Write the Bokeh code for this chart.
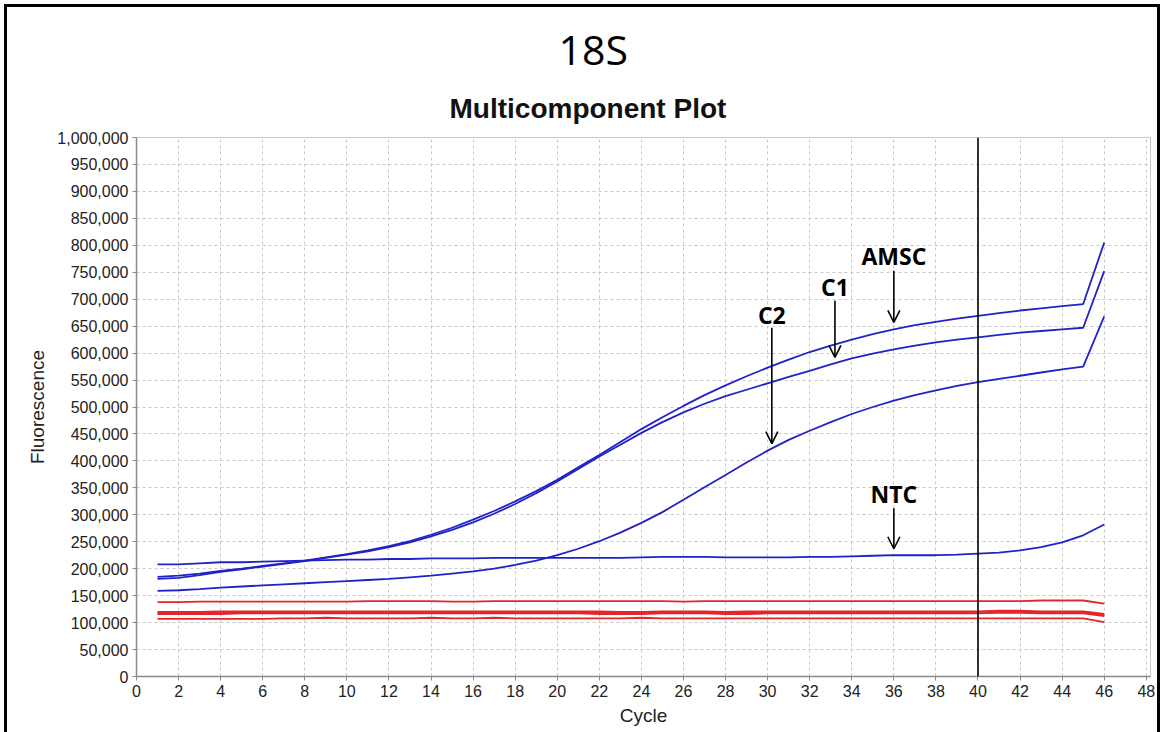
from bokeh.plotting import figure
from bokeh.models import (Range1d, Span, Arrow, OpenHead, Label, Title,
                          NumeralTickFormatter, FixedTicker)
from bokeh.embed import file_html
from bokeh.resources import INLINE

cycles = list(range(1, 47))

amsc = [185, 187, 191, 196, 200, 205, 210, 215, 221, 227, 234, 242, 251, 263, 276,
        291, 307, 325, 344, 365, 388, 411, 435, 459, 481, 502, 522, 540, 557, 573,
        588, 602, 614, 625, 635, 644, 652, 658, 664, 669, 674, 679, 683, 687, 691, 805]
c1 = [181, 183, 188, 194, 199, 204, 209, 214, 220, 226, 232, 240, 249, 260, 272,
      286, 302, 320, 340, 362, 385, 408, 430, 452, 472, 490, 506, 520, 532, 544,
      556, 567, 579, 590, 599, 607, 614, 620, 625, 629, 634, 638, 641, 644, 647, 752]
c2 = [159, 160, 162, 165, 167, 169, 171, 173, 175, 177, 179, 181, 184, 187, 191,
      195, 200, 207, 215, 225, 237, 251, 267, 285, 305, 328, 351, 374, 397, 419,
      439, 456, 472, 487, 500, 512, 522, 531, 539, 546, 552, 558, 564, 570, 575, 668]
ntc = [208, 208, 210, 212, 212, 213, 214, 215, 216, 217, 217, 218, 218, 219, 219,
       219, 220, 220, 220, 220, 220, 220, 220, 221, 222, 222, 222, 221, 221, 221,
       221, 222, 222, 223, 224, 225, 225, 225, 226, 228, 230, 234, 240, 249, 262, 282]
red1 = [138, 138, 139, 139, 139, 139, 139, 139, 139, 139, 140, 140, 140, 140, 139,
        139, 140, 140, 140, 140, 140, 140, 140, 140, 140, 139, 140, 140, 140, 140,
        140, 140, 140, 140, 140, 140, 140, 140, 140, 140, 140, 140, 141, 141, 141, 135]
red2 = [120, 120, 120, 121, 121, 121, 121, 121, 121, 121, 121, 121, 121, 121, 121,
        121, 121, 121, 121, 121, 121, 121, 120, 120, 121, 121, 121, 120, 121, 121,
        121, 121, 121, 121, 121, 121, 121, 121, 121, 121, 122, 122, 121, 121, 121, 116]
red3 = [118, 118, 118, 118, 118, 119, 119, 119, 119, 119, 119, 119, 119, 119, 119,
        119, 119, 119, 119, 119, 119, 119, 119, 119, 119, 119, 119, 119, 119, 119,
        119, 119, 119, 119, 119, 119, 119, 119, 119, 120, 120, 120, 119, 119, 119, 114]
red4 = [116, 116, 116, 116, 117, 117, 117, 117, 117, 117, 117, 117, 117, 117, 117,
        117, 117, 117, 117, 117, 117, 116, 116, 116, 117, 117, 117, 116, 116, 117,
        117, 117, 117, 117, 117, 117, 117, 117, 117, 117, 118, 118, 117, 117, 117, 112]
red5 = [107, 107, 107, 107, 107, 107, 108, 108, 109, 108, 108, 108, 108, 109, 108,
        108, 109, 108, 108, 108, 108, 108, 108, 109, 108, 108, 108, 108, 108, 108,
        108, 108, 108, 108, 108, 108, 108, 108, 108, 108, 108, 108, 108, 108, 108, 101]

blue_series = [amsc, c1, c2, ntc]
red_series = [red1, red2, red3, red4, red5]

threshold_cycle = 40

# label, cycle, text value, arrow start value, arrow tip value (thousands)
ann_labels = ["AMSC", "C1", "C2", "NTC"]
ann_cycles = [36.0, 33.2, 30.2, 36.0]
ann_text_vals = [781, 722, 671, 339]
ann_start_vals = [753, 697, 647, 312]
ann_tip_vals = [657, 592, 432, 237]

title_text = "18S"
subtitle_text = "Multicomponent Plot"

x_ticks = list(range(0, 49, 2))
y_ticks = list(range(0, 1000001, 50000))

BLUE = "#2121c8"
RED = "#e3262b"

p = figure(width=1150, height=725, output_backend="svg", toolbar_location=None,
           x_range=Range1d(0, 48.2), y_range=Range1d(0, 1_000_000),
           min_border_left=129, min_border_right=7, min_border_top=130,
           min_border_bottom=56, title=None)

t_sub = Title(text=subtitle_text, align="left", offset=313, standoff=28,
              text_font="Liberation Sans", text_font_size="28px",
              text_font_style="bold", text_color="#111111")
p.add_layout(t_sub, "above")
t_main = Title(text=title_text, align="left", offset=422, standoff=0,
               text_font="Open Sans", text_font_size="41px",
               text_font_style="normal", text_color="#000000")
p.add_layout(t_main, "above")

p.background_fill_color = "white"
p.border_fill_color = "white"
p.outline_line_color = "#c8c8c8"

p.xaxis.ticker = FixedTicker(ticks=x_ticks)
p.yaxis.ticker = FixedTicker(ticks=y_ticks)
p.yaxis.formatter = NumeralTickFormatter(format="0,0")
p.xgrid.ticker = FixedTicker(ticks=x_ticks)
p.ygrid.ticker = FixedTicker(ticks=y_ticks)
for g in (p.xgrid, p.ygrid):
    g.grid_line_color = "#c8c8c8"
    g.grid_line_dash = "3 3"
    g.grid_line_width = 1

for ax in (p.xaxis, p.yaxis):
    ax.axis_line_color = "#8a8a8a"
    ax.axis_line_width = 1.5
    ax.major_tick_line_color = "#8a8a8a"
    ax.major_tick_out = 4
    ax.major_tick_in = 0
    ax.minor_tick_line_color = None
    ax.major_label_text_font = "Liberation Sans"
    ax.major_label_text_font_size = "16px"
    ax.major_label_text_color = "#222222"
    ax.major_label_standoff = 4
    ax.axis_label_text_font = "Liberation Sans"
    ax.axis_label_text_font_size = "19px"
    ax.axis_label_text_font_style = "normal"
    ax.axis_label_text_color = "#222222"
p.xaxis.axis_label_standoff = 5
p.yaxis.axis_label_standoff = 6
p.xaxis.axis_label = "Cycle"
p.yaxis.axis_label = "Fluorescence"

for s in red_series:
    p.line(cycles, [v * 1000 for v in s], line_color=RED, line_width=1.8)
for s in blue_series:
    p.line(cycles, [v * 1000 for v in s], line_color=BLUE, line_width=1.8)

p.add_layout(Span(location=threshold_cycle, dimension="height",
                  line_color="black", line_width=1.6))

for lab, cx, tv, sv, ev in zip(ann_labels, ann_cycles, ann_text_vals,
                               ann_start_vals, ann_tip_vals):
    p.add_layout(Arrow(end=OpenHead(size=12, line_width=1.6, line_color="black"),
                       x_start=cx, y_start=sv * 1000, x_end=cx, y_end=ev * 1000,
                       line_color="black", line_width=1.6))
    p.add_layout(Label(x=cx, y=tv * 1000, text=lab, text_align="center",
                       text_baseline="middle", text_font="Open Sans",
                       text_font_style="bold", text_font_size="23px",
                       text_color="black"))

p.styles = {"outline": "3px solid black", "margin-left": "7px",
            "margin-top": "7px"}

open("out.html", "w").write(file_html(p, INLINE))
